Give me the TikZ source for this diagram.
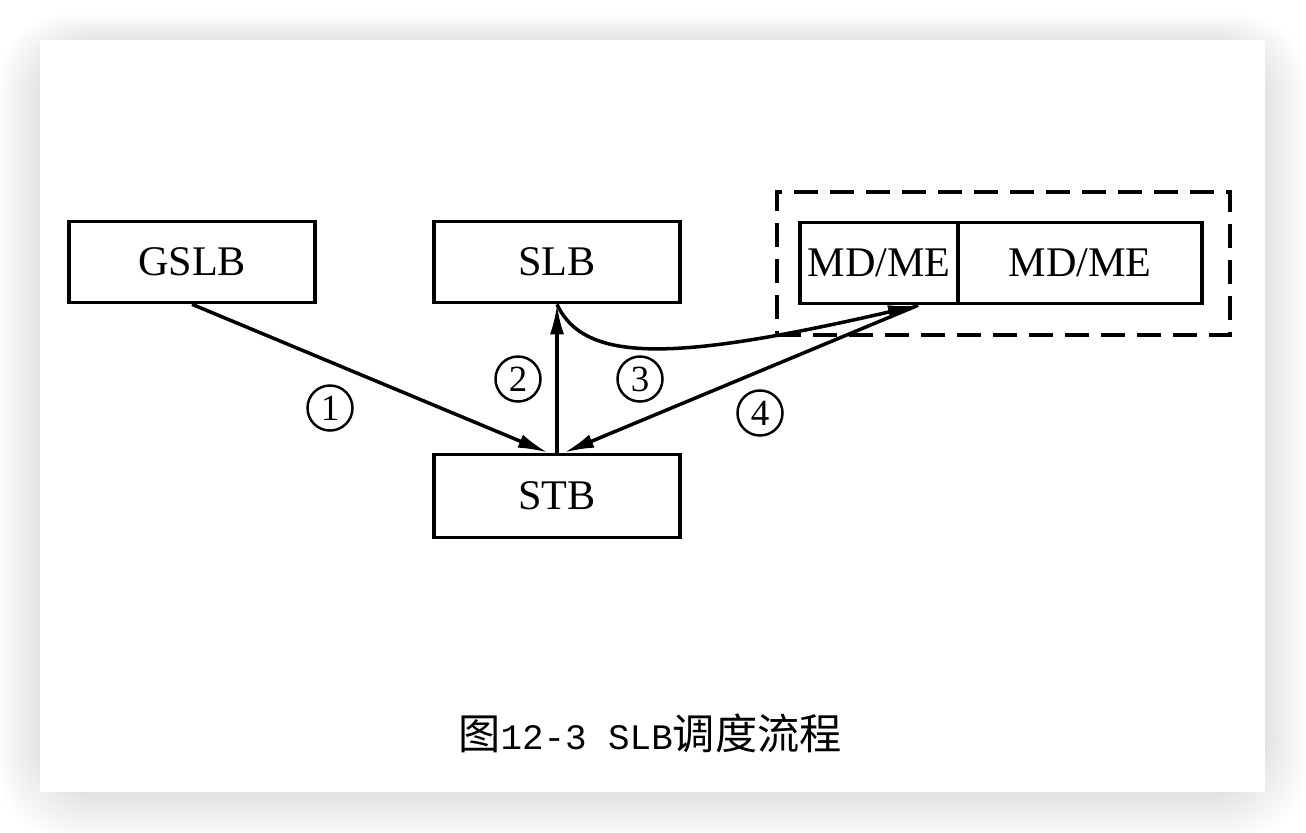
\documentclass[tikz,border=0pt]{standalone}
\usepackage{fontspec}
\setmainfont{Liberation Serif}
\newfontfamily\cjk{Noto Sans CJK SC}
\newfontfamily\latinmono[Scale=0.85]{Liberation Mono}
\usetikzlibrary{arrows.meta,positioning,calc}

\begin{document}
\begin{tikzpicture}[x=0.01cm,y=-0.01cm,
  box/.style={draw,line width=1pt,minimum height=0.81cm,inner sep=0pt,
    font=\fontsize{12}{15}\selectfont},
  numlabel/.style={draw,circle,line width=0.7pt,minimum size=0.45cm,inner sep=0pt,
    font=\fontsize{10.5}{12}\selectfont},
  flow/.style={line width=1pt,-{Latex[length=3mm,width=1.4mm]}}]

\useasboundingbox (0,0) rectangle (1306,832);
% Card with soft shadow
\foreach \k in {1,...,14}{
  \fill[black,opacity=0.007,rounded corners=20] (40-3*\k,42-2*\k) rectangle (1265+3*\k,796+3*\k);
}
\fill[white] (40,40) rectangle (1265,792);

% Boxes
\node[box,minimum width=2.46cm] (gslb) at (192,262) {GSLB};
\node[box,minimum width=2.46cm] (slb) at (557,262) {SLB};
\node[box,minimum width=2.46cm,minimum height=0.83cm] (stb) at (557,496) {STB};
\node[box,minimum width=1.58cm] (mda) at (879,263) {MD/ME};
\node[box,minimum width=2.44cm] (mdb) at (1080,263) {MD/ME};
\node[draw,dash pattern=on 0.24cm off 0.12cm,line width=1pt,
  minimum width=4.53cm,minimum height=1.43cm] (grp) at (1003.5,263.5) {};

% Connectors
\coordinate (mdtip) at ([xshift=0.39cm]mda.south);
\draw[flow] (gslb.south) -- ([xshift=-0.09cm]stb.north);
\draw[flow] (stb.north) -- (slb.south);
\draw[flow] (slb.south) .. controls (585,365) and (680,360) .. (mdtip);
\draw[flow] (mdtip) -- ([xshift=0.07cm]stb.north);

% Step labels
\node[numlabel] (n1) at (330,408) {1};
\node[numlabel] (n2) at (518,379) {2};
\node[numlabel] (n3) at (640,379) {3};
\node[numlabel] (n4) at (760,413) {4};

% Caption
\node[font=\fontsize{12}{15}\selectfont] (cap) at (650,733)
  {{\cjk 图}{\latinmono 12-3 SLB}{\cjk 调度流程}};
\end{tikzpicture}
\end{document}
